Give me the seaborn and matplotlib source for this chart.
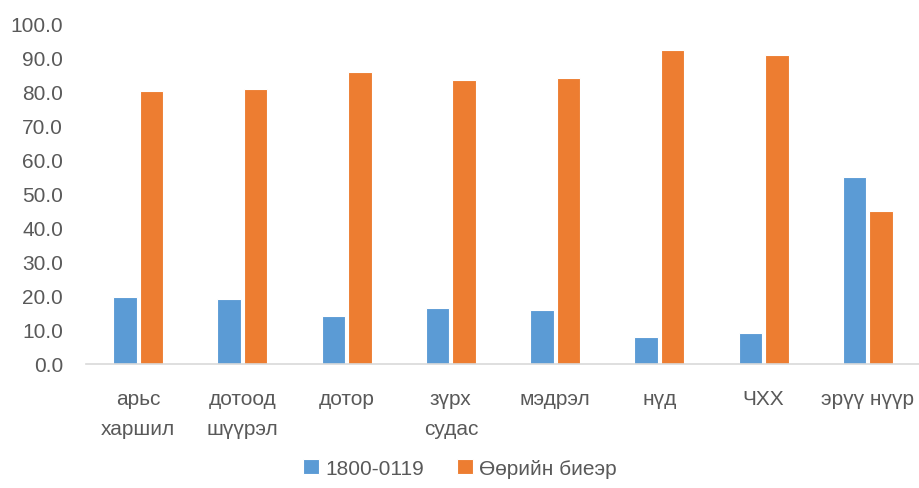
import matplotlib
matplotlib.use("Agg")
import matplotlib.pyplot as plt
import seaborn as sns
import pandas as pd

categories = ["арьс\nхаршил", "дотоод\nшүүрэл", "дотор", "зүрх\nсудас",
              "мэдрэл", "нүд", "ЧХХ", "эрүү нүүр"]
series_names = ["1800-0119", "Өөрийн биеэр"]
hotline = [19.6, 19.1, 14.1, 16.6, 15.8, 7.8, 9.0, 55.0]
self_referred = [80.4, 80.9, 85.9, 83.4, 84.2, 92.2, 91.0, 45.0]
y_ticks = [0, 10, 20, 30, 40, 50, 60, 70, 80, 90, 100]

df = pd.DataFrame({
    "category": categories * 2,
    "value": hotline + self_referred,
    "series": [series_names[0]] * len(categories) + [series_names[1]] * len(categories),
})

sns.set_theme(style="white")
plt.rcParams["font.family"] = ["Liberation Sans", "DejaVu Sans"]

fig = plt.figure(figsize=(9.2, 4.89), dpi=100)
ax = fig.add_axes([0.0935, 0.2536, 0.9065, 0.6954])

palette = {series_names[0]: "#5B9BD5", series_names[1]: "#ED7D31"}
sns.barplot(data=df, x="category", y="value", hue="series", palette=palette,
            width=0.51, gap=0.12, order=categories, hue_order=series_names,
            edgecolor="white", linewidth=0.8, saturation=1, ax=ax, legend=True)

ax.set_ylim(0, 100)
ax.set_xlim(-0.5, len(categories) - 0.5)
ax.set_yticks(y_ticks)
ax.set_yticklabels([f"{v:.1f}" for v in y_ticks])
ax.set_xticks(range(len(categories)))
ax.set_xticklabels(categories, linespacing=1.75, va="top")
ax.set_xlabel("")
ax.set_ylabel("")
ax.tick_params(axis="y", length=0, pad=16.5, labelsize=15, labelcolor="#595959")
ax.tick_params(axis="x", length=0, pad=18, labelsize=15, labelcolor="#595959")

for side in ["top", "right", "left"]:
    ax.spines[side].set_visible(False)
ax.spines["bottom"].set_color("#D9D9D9")
ax.spines["bottom"].set_linewidth(1.2)

handles, labels = ax.get_legend_handles_labels()
ax.get_legend().remove()
fig.legend(handles, labels, loc="center", bbox_to_anchor=(0.5, 0.04), ncol=2,
           frameon=False, fontsize=15, handlelength=0.75, handleheight=0.75,
           handletextpad=0.3, columnspacing=1.6, labelcolor="#595959")

fig.savefig("out.png", dpi=100)
